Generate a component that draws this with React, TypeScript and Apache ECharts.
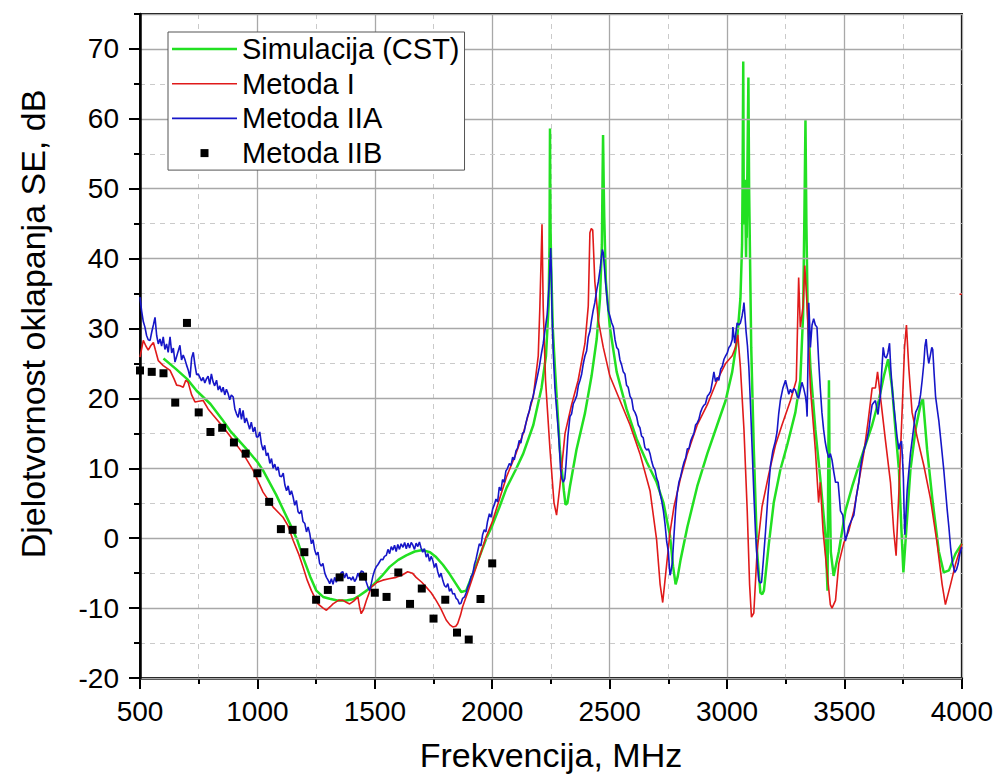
import { useEffect, useRef } from "react";
import * as echarts from "echarts";

const FONT = 'Arial, "Liberation Sans", sans-serif';

const X_NAME = "Frekvencija, MHz";
const Y_NAME = "Djelotvornost oklapanja SE, dB";
const SERIES_NAMES = ["Simulacija (CST)", "Metoda I", "Metoda IIA", "Metoda IIB"];

// Simulacija (CST) [MHz, dB]
const simulationCST: [number, number][] = [
  [600, 25.7], [650, 24.3], [700, 22.8], [741, 21.1], [800, 19.2], [850, 17.0], [883, 15.4],
  [950, 12.9], [1000, 10.9], [1024, 9.7], [1080, 6.2], [1138, 2.1], [1170, -0.3], [1194, -2.7],
  [1225, -5.5], [1251, -7.5], [1280, -8.4], [1308, -8.65], [1340, -8.9], [1379, -8.9], [1410, -8.7],
  [1435, -8.2], [1465, -7.5], [1492, -6.7], [1530, -5.4], [1563, -4.1], [1600, -3.1], [1634, -2.45],
  [1670, -1.9], [1704, -1.7], [1735, -2.0], [1761, -2.7], [1790, -3.8], [1818, -5.1], [1845, -6.5],
  [1868, -7.7], [1889, -7.5], [1915, -5.3], [1945, -2.7], [1975, 0.0], [2000, 1.8], [2030, 4.4],
  [2061, 7.2], [2100, 9.8], [2132, 12.1], [2175, 16.2], [2210, 21.5], [2229, 26.1], [2240, 33.2],
  [2244, 42], [2246, 58.6], [2248, 45], [2251, 39], [2258, 30], [2267, 24.4], [2288, 12.7],
  [2305, 6.8], [2312, 4.8], [2320, 5.0], [2331, 7.4], [2359, 12.7], [2395, 17.9], [2423, 23.2],
  [2445, 28.5], [2459, 34.3], [2467, 42], [2470, 52], [2472, 57.7], [2475, 50], [2477, 46],
  [2484, 36.7], [2501, 30.2], [2530, 23.8], [2572, 18.5], [2615, 14.2], [2658, 10.9], [2700, 8.0],
  [2729, 5.1], [2757, 0.4], [2770, -4.0], [2781, -6.6], [2790, -5.5], [2802, -3.1], [2831, 1.6],
  [2873, 7.4], [2916, 12.1], [2958, 16.2], [2994, 19.7], [3022, 23.8], [3043, 28.5], [3057, 34.3],
  [3064, 42], [3066, 50], [3069, 68.2], [3071, 50], [3073, 44.9], [3075, 49], [3077, 51.3],
  [3079, 45], [3081, 40.2], [3083, 47], [3084, 43], [3086, 50.7], [3091, 65.9], [3094, 50],
  [3096, 44.9], [3103, 27.3], [3114, 12.7], [3128, -1.9], [3142, -7.8], [3150, -8.0], [3157, -7.5],
  [3178, -0.8], [3199, 5.1], [3227, 9.8], [3256, 13.3], [3291, 18.0], [3312, 22.6], [3324, 32.0],
  [3329, 44.9], [3334, 59.8], [3338, 44.9], [3343, 33.2], [3355, 24.4], [3376, 15.6], [3397, 8.6],
  [3419, 0.4], [3428, -7.5], [3431, 10], [3434, 22.6], [3437, 8], [3442, -2], [3454, -5.4],
  [3476, -1.9], [3504, 3.9], [3533, 7.4], [3561, 10.4], [3589, 13.3], [3618, 16.2], [3646, 19.7],
  [3668, 23.2], [3686, 25.6], [3703, 21.5], [3717, 15.6], [3732, 9.8], [3743, 1.0], [3751, -4.9],
  [3763, 1.0], [3781, 9.8], [3803, 15.6], [3824, 19.1], [3834, 20.0], [3852, 12.7], [3874, 5.7],
  [3902, -1.9], [3923, -4.9], [3945, -4.6], [3973, -2.2], [4000, -0.8],
];

// Metoda I [MHz, dB]
const metodaI: [number, number][] = [
  [500, 25.9], [514, 28.3], [525, 27.5], [535, 26.9], [545, 27.5], [557, 28.0], [565, 27.0],
  [578, 25.4], [599, 24.7], [628, 24.0], [645, 22.8], [656, 21.9], [670, 21.8], [684, 21.6],
  [695, 22.6], [705, 22.3], [720, 20.5], [734, 19.5], [750, 19.6], [769, 19.7], [790, 18.5],
  [812, 17.6], [854, 15.9], [897, 14.0], [939, 12.1], [982, 9.7], [1024, 6.6], [1067, 4.45],
  [1109, 3.0], [1130, 1.8], [1152, -0.3], [1175, -2.2], [1194, -4.1], [1212, -6.0], [1230, -7.5],
  [1258, -9.4], [1280, -10.0], [1294, -10.3], [1310, -9.8], [1322, -9.4], [1345, -8.9], [1364, -8.9],
  [1380, -9.2], [1393, -9.4], [1410, -9.0], [1428, -8.4], [1435, -9.8], [1442, -10.8], [1452, -10.2],
  [1464, -8.9], [1485, -7.0], [1510, -6.3], [1534, -6.0], [1560, -5.8], [1591, -5.6], [1615, -5.3],
  [1640, -4.8], [1660, -5.0], [1676, -5.6], [1700, -6.3], [1719, -7.0], [1740, -7.8], [1761, -8.9],
  [1780, -10.0], [1804, -11.7], [1820, -12.4], [1832, -12.7], [1845, -12.6], [1853, -12.2],
  [1865, -11.0], [1874, -9.8], [1895, -7.8], [1917, -5.6], [1945, -2.8], [1974, 0.2], [2000, 2.3],
  [2030, 5.5], [2061, 8.8], [2100, 12.0], [2132, 15.0], [2175, 20.3], [2196, 26.1], [2203, 33.2],
  [2212, 44.9], [2217, 33.2], [2227, 22.6], [2246, 12.7], [2263, 5.1], [2274, 3.3], [2288, 7.4],
  [2310, 15.0], [2338, 19.1], [2366, 22.6], [2395, 27.9], [2409, 33.2], [2416, 43.7], [2422, 44.3],
  [2428, 44.1], [2437, 36.7], [2452, 31.1], [2473, 27.3], [2501, 23.2], [2544, 19.7], [2587, 16.2],
  [2629, 12.1], [2672, 6.8], [2700, -0.2], [2715, -6.6], [2726, -9.2], [2743, -3.7], [2757, 0.8],
  [2774, 4.5], [2802, 8.6], [2831, 12.1], [2873, 16.2], [2916, 19.1], [2958, 22.6], [2994, 25.0],
  [3022, 26.1], [3036, 27.3], [3046, 29.1], [3057, 24.4], [3072, 15.6], [3086, 3.9], [3096, -6.6],
  [3104, -11.3], [3114, -10.7], [3128, -1.9], [3149, 4.5], [3178, 9.2], [3206, 13.3], [3234, 16.2],
  [3270, 19.7], [3295, 22.6], [3305, 37.3], [3312, 30.2], [3324, 33.2], [3331, 39.0], [3341, 33.2],
  [3355, 21.5], [3376, 12.7], [3390, 5.1], [3397, 8.0], [3409, 1.0], [3426, -4.9], [3440, -9.5],
  [3447, -10.0], [3462, -8.9], [3476, -3.6], [3497, -0.7], [3518, 1.0], [3540, 3.9], [3561, 8.0],
  [3582, 12.1], [3601, 16.8], [3618, 21.5], [3632, 21.5], [3641, 23.8], [3653, 20.3], [3675, 13.9],
  [3696, 8.0], [3710, 1.0], [3720, -2.5], [3732, 6.8], [3746, 18.5], [3756, 27.3], [3764, 30.5],
  [3774, 24.4], [3788, 18.0], [3810, 14.4], [3838, 10.4], [3866, 5.7], [3895, -0.8], [3916, -6.6],
  [3930, -9.5], [3952, -6.6], [3973, -3.7], [4000, -0.8],
];
// short stray red segment at the right edge
const metodaIEdge: [number, number][] = [[3990, 34.9], [4000, 34.9]];

// Metoda IIA [MHz, dB]
const metodaIIA: [number, number][] = [
  [500, 34.5], [507, 32.5], [514, 31.0], [521, 30.2], [528, 29.0], [535, 28.4], [543, 28.3], [550, 29.5],
  [557, 30.5], [564, 31.6], [571, 29.0], [578, 27.8], [585, 28.5], [592, 27.5], [599, 28.8], [606, 27.0],
  [613, 27.8], [620, 26.6], [628, 28.8], [635, 26.5], [642, 27.2], [649, 25.2], [656, 26.0], [663, 26.8],
  [670, 27.6], [677, 25.5], [684, 26.2], [691, 25.6], [698, 24.8], [706, 24.0], [713, 23.0], [720, 25.8],
  [727, 26.6], [734, 24.8], [741, 23.4], [748, 23.5], [755, 23.0], [762, 22.5], [769, 23.0], [776, 22.2],
  [783, 22.8], [790, 23.2], [797, 22.0], [804, 23.5], [811, 22.4], [818, 21.8], [826, 22.6], [833, 21.2],
  [840, 21.8], [847, 20.9], [854, 21.6], [861, 20.5], [868, 21.3], [875, 20.7], [882, 19.8], [889, 20.5],
  [897, 20.2], [904, 18.5], [911, 17.8], [918, 17.3], [925, 18.6], [932, 17.0], [939, 18.3], [946, 16.5],
  [953, 17.2], [960, 16.4], [967, 15.6], [974, 16.6], [982, 15.2], [989, 15.9], [996, 14.5], [1003, 14.5],
  [1010, 15.2], [1017, 13.5], [1024, 12.6], [1031, 13.3], [1038, 11.8], [1045, 12.2], [1053, 10.7],
  [1060, 11.4], [1067, 10.0], [1074, 10.6], [1081, 9.7], [1088, 10.2], [1095, 8.9], [1103, 8.8],
  [1110, 9.3], [1117, 7.6], [1124, 6.8], [1131, 7.5], [1138, 6.2], [1145, 6.8], [1152, 5.9], [1159, 4.7],
  [1166, 5.4], [1173, 3.8], [1180, 3.5], [1187, 4.0], [1194, 2.4], [1202, 2.1], [1209, 0.9], [1216, 1.6],
  [1223, 0.65], [1230, -0.8], [1237, -0.2], [1244, -1.7], [1251, -2.4], [1258, -2.0], [1265, -3.6],
  [1272, -4.0], [1279, -3.6], [1287, -5.0], [1294, -5.6], [1301, -6.0], [1308, -6.5], [1315, -5.8],
  [1322, -6.6], [1329, -5.6], [1336, -6.3], [1343, -5.4], [1350, -5.9], [1357, -4.9], [1364, -4.8],
  [1371, -5.7], [1379, -5.0], [1386, -5.8], [1393, -5.6], [1400, -6.0], [1407, -5.5], [1414, -6.2],
  [1421, -5.8], [1428, -5.0], [1435, -5.6], [1442, -4.7], [1450, -4.8], [1457, -5.6], [1464, -6.3],
  [1471, -7.0], [1478, -7.5], [1485, -6.5], [1492, -5.4], [1499, -4.6], [1506, -4.1], [1513, -3.8],
  [1520, -3.4], [1527, -3.0], [1534, -3.1], [1541, -2.6], [1549, -2.45], [1556, -1.6], [1563, -2.2],
  [1570, -1.2], [1577, -1.7], [1584, -1.0], [1591, -1.9], [1598, -0.9], [1605, -1.6], [1612, -0.8],
  [1620, -1.3], [1627, -0.6], [1634, -1.5], [1641, -0.7], [1648, -1.4], [1655, -0.6], [1662, -1.0],
  [1669, -1.6], [1676, -0.7], [1683, -1.2], [1690, -0.55], [1697, -1.4], [1704, -2.0], [1711, -1.5],
  [1719, -2.7], [1726, -2.2], [1733, -3.3], [1740, -2.6], [1747, -3.2], [1754, -4.2], [1761, -3.6],
  [1768, -4.8], [1775, -5.6], [1782, -5.0], [1790, -6.1], [1797, -6.8], [1804, -7.0], [1811, -6.5],
  [1818, -7.6], [1825, -7.2], [1832, -8.0], [1839, -7.9], [1846, -8.6], [1853, -8.8], [1860, -9.4],
  [1867, -9.3], [1874, -8.6], [1882, -8.4], [1889, -7.8], [1896, -7.0], [1903, -6.4], [1910, -5.5],
  [1917, -5.1], [1924, -3.8], [1931, -3.0], [1938, -1.9], [1945, -0.8], [1952, -1.1], [1959, 0.5],
  [1966, 1.2], [1973, 0.9], [1980, 2.4], [1988, 3.5], [1995, 3.0], [2002, 4.2], [2009, 4.8], [2016, 5.6],
  [2023, 5.2], [2030, 7.3], [2037, 6.8], [2044, 8.4], [2051, 8.0], [2058, 9.6], [2065, 10.0], [2073, 10.7],
  [2080, 10.4], [2087, 11.6], [2094, 11.2], [2101, 12.5], [2108, 12.9], [2115, 14.0], [2122, 13.6],
  [2129, 15.0], [2136, 15.2], [2143, 16.4], [2151, 17.5], [2158, 18.2], [2165, 19.4], [2172, 20.0],
  [2180, 21.2], [2189, 22.6], [2200, 24.4], [2210, 26.5], [2217, 27.8], [2225, 29.8], [2234, 32.0],
  [2243, 36.7], [2247, 40], [2249, 41.5], [2252, 38], [2254, 33.2], [2260, 26.5], [2267, 21.5],
  [2274, 18.5], [2281, 15.6], [2286, 13.0], [2291, 9.8], [2297, 8.5], [2303, 8.0], [2309, 8.5],
  [2314, 10.4], [2322, 14.5], [2331, 17.4], [2338, 17.8], [2345, 19.2], [2352, 19.7], [2360, 20.4],
  [2367, 21.9], [2374, 22.6], [2381, 23.5], [2388, 25.0], [2395, 26.1], [2402, 26.8], [2409, 28.8],
  [2416, 29.6], [2423, 31.2], [2430, 32.6], [2437, 33.7], [2445, 35.5], [2452, 36.7], [2460, 38.6],
  [2466, 40.5], [2469, 41.3], [2473, 40.8], [2476, 39.5], [2480, 37.8], [2487, 35.0], [2494, 32.6],
  [2501, 31.8], [2509, 30.8], [2516, 30.2], [2523, 28.4], [2530, 27.3], [2537, 27.0], [2544, 25.5],
  [2551, 24.8], [2558, 23.8], [2565, 23.5], [2572, 21.9], [2579, 21.6], [2587, 20.3], [2594, 19.9],
  [2601, 18.4], [2608, 18.0], [2615, 17.4], [2622, 16.2], [2629, 15.8], [2636, 14.6], [2643, 14.4],
  [2650, 13.0], [2658, 12.6], [2665, 12.8], [2672, 12.1], [2679, 11.0], [2686, 10.2], [2693, 9.8],
  [2700, 8.6], [2707, 8.0], [2714, 6.5], [2722, 5.3], [2729, 3.9], [2736, 2.0], [2743, -0.5],
  [2750, -1.9], [2754, -4.0], [2757, -5.3], [2760, -5.0], [2767, -3.5], [2774, 0.4], [2781, 4.0],
  [2788, 6.5], [2795, 8.0], [2802, 8.8], [2810, 10.0], [2817, 10.9], [2824, 11.5], [2831, 12.8],
  [2838, 12.8], [2845, 13.9], [2852, 14.5], [2859, 15.0], [2866, 16.2], [2873, 16.5], [2880, 17.0],
  [2887, 18.0], [2894, 18.6], [2901, 19.0], [2908, 19.2], [2916, 20.3], [2923, 20.6], [2930, 21.0],
  [2937, 22.3], [2944, 23.8], [2951, 22.4], [2958, 23.0], [2965, 22.6], [2973, 24.2], [2980, 24.6],
  [2987, 25.6], [2994, 26.1], [3001, 26.5], [3008, 27.3], [3015, 27.6], [3022, 28.4], [3025, 30.2],
  [3029, 29.0], [3033, 27.9], [3038, 29.5], [3043, 30.8], [3050, 30.5], [3057, 30.8], [3064, 31.8],
  [3069, 32.8], [3072, 33.7], [3076, 32.0], [3081, 29.6], [3087, 27.5], [3093, 24.4], [3100, 19.0],
  [3107, 12.7], [3114, 6.5], [3121, 1.0], [3128, -3.0], [3135, -6.0], [3141, -6.4], [3147, -6.3],
  [3155, -3.0], [3164, 1.0], [3174, 6.0], [3185, 10.4], [3195, 12.5], [3206, 13.9], [3213, 15.2],
  [3220, 17.8], [3227, 19.7], [3238, 21.5], [3249, 22.6], [3256, 21.6], [3263, 20.6], [3270, 21.3],
  [3277, 20.8], [3284, 21.4], [3291, 21.2], [3298, 20.4], [3305, 20.0], [3312, 21.2], [3319, 22.3],
  [3326, 21.5], [3334, 20.3], [3338, 19.2], [3341, 17.4], [3345, 26], [3348, 33.7], [3352, 30.5],
  [3355, 27.3], [3362, 30.5], [3369, 31.4], [3376, 30.5], [3383, 30.2], [3390, 25.5], [3397, 21.5],
  [3404, 18.0], [3411, 15.6], [3418, 13.8], [3425, 12.5], [3433, 11.5], [3440, 12.1], [3447, 11.2],
  [3454, 9.6], [3462, 8.0], [3473, 8.0], [3478, 6.0], [3483, 3.9], [3493, 3.3], [3504, -0.4],
  [3511, 0.5], [3518, 1.6], [3529, 2.5], [3540, 3.3], [3550, 5.8], [3561, 8.0], [3568, 10.0],
  [3575, 11.5], [3582, 12.5], [3589, 13.3], [3596, 14.2], [3604, 15.6], [3611, 17.5], [3618, 19.1],
  [3625, 19.4], [3632, 19.7], [3638, 18.5], [3643, 17.7], [3648, 19.2], [3653, 20.3], [3659, 24.0],
  [3665, 27.3], [3671, 26.0], [3678, 25.8], [3685, 26.5], [3692, 27.9], [3697, 24.5], [3703, 21.5],
  [3710, 19.0], [3717, 16.8], [3724, 14.5], [3732, 12.7], [3737, 13.5], [3743, 13.9], [3747, 11.5],
  [3751, 8.6], [3754, 4.0], [3757, 0.5], [3762, 3.5], [3767, 6.8], [3774, 9.5], [3781, 12.1],
  [3792, 15.0], [3803, 18.0], [3810, 18.5], [3817, 19.1], [3824, 20.5], [3831, 22.6], [3838, 25.0],
  [3843, 27.5], [3848, 28.5], [3853, 26.5], [3859, 25.0], [3866, 26.2], [3872, 27.3], [3876, 27.0],
  [3882, 23.5], [3888, 20.3], [3895, 18.5], [3902, 16.8], [3912, 13.5], [3923, 9.8], [3930, 7.0],
  [3938, 3.9], [3945, 1.5], [3952, -1.3], [3960, -3.5], [3970, -4.9], [3977, -4.5], [3984, -3.7],
  [3991, -2.3], [4000, -1.3],
];

// Metoda IIB [MHz, dB]
const metodaIIBFreq = [
  500, 550, 600, 650, 700, 750, 800, 850, 900, 950, 1000, 1050, 1100, 1150, 1200, 1250,
  1300, 1350, 1400, 1450, 1500, 1550, 1600, 1650, 1700, 1750, 1800, 1850, 1900, 1950, 2000,
];
const metodaIIBValues = [
  24.0, 23.8, 23.6, 19.4, 30.8, 18.0, 15.2, 15.8, 13.7, 12.1, 9.3, 5.2, 1.3, 1.2, -2.0, -8.8,
  -7.4, -5.6, -7.4, -5.5, -7.8, -8.4, -4.9, -9.4, -7.2, -11.5, -8.8, -13.5, -14.5, -8.7, -3.6,
];

const X_MIN = 500;
const X_MAX = 4000;
const X_STEP = 500;
const Y_MIN = -20;
const Y_MAX = 75;
const Y_STEP = 10;
const Y_MINOR_STEP = 5;

const COLORS = ["#22e022", "#e01a1a", "#1616c8", "#000000"];
const LINE_WIDTHS = [2.5, 1.6, 1.6];

export default function App() {
  const ref = useRef<HTMLDivElement>(null);

  useEffect(() => {
    if (!ref.current) return;
    const chart = echarts.init(ref.current, null, { renderer: "svg" });
    const axisLabelStyle = { fontSize: 28, fontFamily: FONT, color: "#000" };
    const lineIcon = (w: number) => `path://M0,0H65V${w}H0Z`;
    const option: any = {
      animation: false,
      backgroundColor: "#fff",
      grid: {
        left: 140,
        right: 33,
        top: 14,
        bottom: 102,
        show: true,
        borderColor: "#000",
        borderWidth: 2,
        backgroundColor: "transparent",
      },
      legend: {
        orient: "vertical",
        left: 168,
        top: 32,
        itemWidth: 65,
        itemHeight: 8,
        itemGap: 4.7,
        padding: [2, 5, 2, 4],
        borderColor: "#555",
        borderWidth: 1,
        backgroundColor: "#fff",
        selectedMode: false,
        textStyle: { fontSize: 29, fontFamily: FONT, color: "#000", lineHeight: 30 },
        data: [
          { name: SERIES_NAMES[0], icon: lineIcon(LINE_WIDTHS[0]) },
          { name: SERIES_NAMES[1], icon: lineIcon(LINE_WIDTHS[1]) },
          { name: SERIES_NAMES[2], icon: lineIcon(LINE_WIDTHS[2]) },
          { name: SERIES_NAMES[3], icon: "path://M0,0H10V10H0Z" },
        ],
      },
      xAxis: {
        type: "value",
        min: X_MIN,
        max: X_MAX,
        interval: X_STEP,
        name: X_NAME,
        nameLocation: "middle",
        nameGap: 60,
        nameTextStyle: { fontSize: 34, fontFamily: FONT, color: "#000" },
        axisLine: { show: true, onZero: false, lineStyle: { color: "#000", width: 2.5 } },
        axisTick: { show: true, length: 11, lineStyle: { color: "#000", width: 2 } },
        minorTick: { show: true, splitNumber: 2, length: 6, lineStyle: { color: "#000", width: 2 } },
        axisLabel: { ...axisLabelStyle, margin: 19, formatter: (v: number) => String(v) },
        splitLine: { show: true, lineStyle: { color: "#a8a8a8", width: 1.3 } },
        minorSplitLine: { show: true, lineStyle: { color: "#cacaca", width: 1, type: [5, 5] } },
      },
      yAxis: [
        {
          type: "value",
          min: Y_MIN,
          max: Y_MAX,
          interval: Y_STEP,
          name: Y_NAME,
          nameLocation: "middle",
          nameGap: 90,
          nameTextStyle: { fontSize: 34, fontFamily: FONT, color: "#000", padding: [0, 0, 0, 44] },
          axisLine: { show: true, onZero: false, lineStyle: { color: "#000", width: 2.5 } },
          axisTick: { show: true, length: 11, lineStyle: { color: "#000", width: 2 } },
          axisLabel: { ...axisLabelStyle, margin: 21, showMaxLabel: false, formatter: (v: number) => String(v) },
          splitLine: { show: true, lineStyle: { color: "#a8a8a8", width: 1.3 } },
          z: 3,
        },
        {
          type: "value",
          min: Y_MIN,
          max: Y_MAX,
          interval: Y_MINOR_STEP,
          position: "left",
          axisLine: { show: false, onZero: false },
          axisLabel: { show: false },
          axisTick: { show: true, length: 6, lineStyle: { color: "#000", width: 2 } },
          splitLine: {
            show: true,
            lineStyle: { color: ["transparent", "#cacaca"], width: 1, type: [5, 5] },
          },
          z: 2,
        },
      ],
      series: [
        {
          name: SERIES_NAMES[0],
          type: "line",
          data: simulationCST,
          showSymbol: false,
          symbol: "none",
          color: COLORS[0],
          lineStyle: { width: LINE_WIDTHS[0], color: COLORS[0] },
          z: 2,
        },
        {
          name: SERIES_NAMES[1],
          type: "line",
          data: [...metodaI, [X_MAX, "-"], ...metodaIEdge],
          showSymbol: false,
          symbol: "none",
          connectNulls: false,
          color: COLORS[1],
          lineStyle: { width: LINE_WIDTHS[1], color: COLORS[1] },
          z: 3,
        },
        {
          name: SERIES_NAMES[2],
          type: "line",
          data: metodaIIA,
          showSymbol: false,
          symbol: "none",
          color: COLORS[2],
          lineStyle: { width: LINE_WIDTHS[2], color: COLORS[2] },
          z: 4,
        },
        {
          name: SERIES_NAMES[3],
          type: "scatter",
          data: metodaIIBFreq.map((f, i) => [f, metodaIIBValues[i]]),
          symbol: "rect",
          symbolSize: 8,
          color: COLORS[3],
          itemStyle: { color: COLORS[3], opacity: 1 },
          z: 5,
        },
      ],
    };
    chart.setOption(option);
    return () => chart.dispose();
  }, []);

  return (
    <div
      ref={ref}
      style={{ position: "fixed", left: 0, top: 0, width: 996, height: 780 }}
    />
  );
}
